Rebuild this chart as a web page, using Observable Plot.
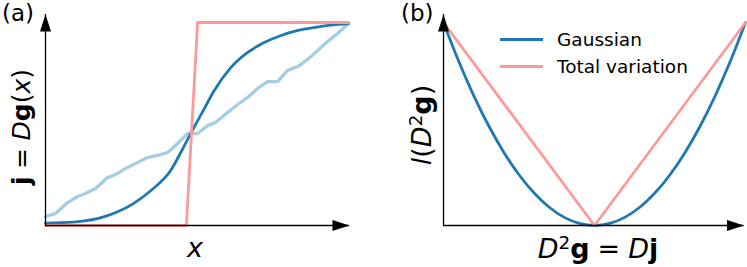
<!DOCTYPE html>
<html><head><meta charset="utf-8">
<script src="https://cdn.jsdelivr.net/npm/d3@7"></script>
<script src="https://cdn.jsdelivr.net/npm/@observablehq/plot@0.6"></script>
<style>
body{margin:0;background:#fff;}
#wrap{position:relative;width:747px;height:267px;color:#000;overflow:hidden;font-family:"DejaVu Sans",sans-serif;}
#wrap svg{position:absolute;top:0;}
.lbl{position:absolute;white-space:nowrap;line-height:1;}
.rot{transform:translate(-50%,-50%) rotate(-90deg);}
.ctr{transform:translateX(-50%);}
sup{font-size:0.68em;vertical-align:0;position:relative;top:-0.5em;line-height:0;}
.eq{margin:0 0.3em;}
.leg{position:absolute;left:500px;top:25.5px;font-size:18.5px;}
.leg .row{display:flex;align-items:center;height:27px;}
.leg .sw{display:inline-block;width:43px;height:3px;margin-right:14px;}
</style></head>
<body><div id="wrap"></div>
<script>
// ---------- data ----------
const stepX = [0, 0.465, 0.502, 1];
const stepY = [0, 0, 1, 1];
const gaussX = [0, 0.092, 0.205, 0.29, 0.356, 0.413, 0.455, 0.488, 0.521, 0.555, 0.61, 0.665, 0.72, 0.775, 0.83, 0.885, 0.94, 1];
const gaussY = [0.012, 0.017, 0.049, 0.108, 0.182, 0.271, 0.384, 0.478, 0.567, 0.66, 0.775, 0.85, 0.90, 0.935, 0.96, 0.975, 0.987, 0.995];
const noisyX = [0, 0.033, 0.073, 0.106, 0.132, 0.165, 0.205, 0.231, 0.264, 0.304, 0.337, 0.370, 0.403, 0.436, 0.469, 0.502, 0.535, 0.561, 0.601, 0.634, 0.667, 0.700, 0.733, 0.766, 0.799, 0.832, 0.865, 0.898, 0.931, 0.964, 1];
const noisyY = [0.044, 0.059, 0.113, 0.143, 0.158, 0.182, 0.236, 0.251, 0.281, 0.310, 0.335, 0.345, 0.360, 0.404, 0.453, 0.453, 0.493, 0.507, 0.557, 0.596, 0.631, 0.675, 0.709, 0.709, 0.764, 0.783, 0.818, 0.862, 0.906, 0.946, 0.995];
const lossX = [-1, -0.9, -0.8, -0.7, -0.6, -0.5, -0.4, -0.3, -0.2, -0.1, 0, 0.1, 0.2, 0.3, 0.4, 0.5, 0.6, 0.7, 0.8, 0.9, 1];
const gaussLoss = [1, 0.81, 0.64, 0.49, 0.36, 0.25, 0.16, 0.09, 0.04, 0.01, 0, 0.01, 0.04, 0.09, 0.16, 0.25, 0.36, 0.49, 0.64, 0.81, 1];
const tvX = [-1, 0, 1];
const tvLoss = [1, 0, 1];
const legendNames = ["Gaussian", "Total variation"];
const aXEnd = 1.003, aYEnd = 1.04;
const bXEnd = 0.99, bYEnd = 1.04;

const darkBlue = "#1f78b4", lightBlue = "#a6cee3", red = "#fb9a99";

const tbl = (xs, ys) => xs.map((x, i) => ({x, y: ys[i]}));
const arrowHead = {draw(ctx){ ctx.moveTo(0,0); ctx.lineTo(-17,-5.5); ctx.lineTo(-17,5.5); ctx.closePath(); }};

function axes(xEnd, yEnd, x0, y0){
  return [
    Plot.ruleY([y0], {x1: x0, x2: xEnd, stroke: "#000", strokeWidth: 1.3}),
    Plot.ruleX([x0], {y1: y0, y2: yEnd, stroke: "#000", strokeWidth: 1.3}),
    Plot.dot([{x: xEnd, y: y0}], {x: "x", y: "y", symbol: arrowHead, fill: "#000", stroke: "none", rotate: 0}),
    Plot.dot([{x: x0, y: yEnd}], {x: "x", y: "y", symbol: arrowHead, fill: "#000", stroke: "none", rotate: -90})
  ];
}

const pa = Plot.plot({
  width: 380, height: 267,
  marginLeft: 45, marginRight: 32, marginTop: 22, marginBottom: 42,
  x: {domain: [0, 1], axis: null},
  y: {domain: [0, 1], axis: null},
  style: {overflow: "visible", background: "transparent"},
  marks: [
    Plot.line(tbl(noisyX, noisyY), {x: "x", y: "y", stroke: lightBlue, strokeWidth: 3.3}),
    Plot.line(tbl(gaussX, gaussY), {x: "x", y: "y", stroke: darkBlue, strokeWidth: 2.8, curve: "monotone-x"}),
    Plot.line(tbl(stepX, stepY), {x: "x", y: "y", stroke: red, strokeWidth: 2.8}),
    ...axes(aXEnd, aYEnd, 0, 0)
  ]
});
pa.style.left = "0px";

const pb = Plot.plot({
  width: 367, height: 267,
  marginLeft: 63, marginRight: 2, marginTop: 22, marginBottom: 42,
  x: {domain: [-1, 1], axis: null},
  y: {domain: [0, 1], axis: null},
  style: {overflow: "visible", background: "transparent"},
  marks: [
    Plot.line(tbl(lossX, gaussLoss), {x: "x", y: "y", stroke: darkBlue, strokeWidth: 2.8, curve: "monotone-x"}),
    Plot.line(tbl(tvX, tvLoss), {x: "x", y: "y", stroke: red, strokeWidth: 2.8}),
    ...axes(bXEnd, bYEnd, -1, 0)
  ]
});
pb.style.left = "380px";

const wrap = document.getElementById("wrap");
wrap.appendChild(pa);
wrap.appendChild(pb);

function label(html, css, cls){
  const d = document.createElement("div");
  d.className = "lbl " + (cls || "");
  d.innerHTML = html;
  Object.assign(d.style, css);
  wrap.appendChild(d);
}
label("(a)", {left: "2px", top: "2px", fontSize: "23px"});
label("(b)", {left: "401px", top: "2px", fontSize: "23px"});
label('<b>j</b><span class="eq">=</span><i>D</i><b>g</b>(<i>x</i>)', {left: "21px", top: "127px", fontSize: "25px"}, "rot");
label('<i>l</i>(<i>D</i><sup>2</sup><b>g</b>)', {left: "421px", top: "125px", fontSize: "27px"}, "rot");
label('<i>x</i>', {left: "195px", top: "234px", fontSize: "27px"}, "ctr");
label('<i>D</i><sup>2</sup><b>g</b><span class="eq">=</span><i>D</i><b>j</b>', {left: "598px", top: "235px", fontSize: "27px"}, "ctr");

const leg = document.createElement("div");
leg.className = "leg";
[darkBlue, red].forEach((c, i) => {
  const r = document.createElement("div");
  r.className = "row";
  r.innerHTML = `<span class="sw" style="background:${c}"></span><span>${legendNames[i]}</span>`;
  leg.appendChild(r);
});
wrap.appendChild(leg);
</script></body></html>
